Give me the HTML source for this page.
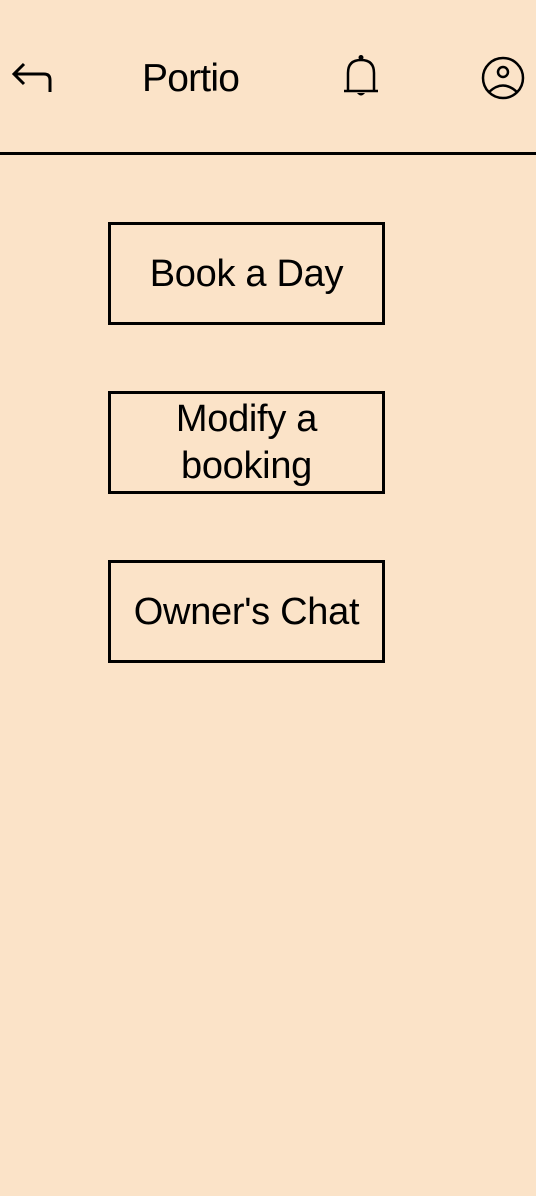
<!DOCTYPE html>
<html><head><style>
html,body{margin:0;padding:0}
body{width:536px;height:1196px;background:#fbe3c8;position:relative;overflow:hidden;font-family:"Liberation Sans",sans-serif;color:#000}
.hdr{position:absolute;left:0;top:152px;width:536px;height:3px;background:#000}
.title{position:absolute;left:142px;top:55px;font-size:39px;line-height:48px;letter-spacing:-0.8px}
.btn{position:absolute;left:108px;width:271px;height:97px;border:3px solid #000;display:flex;align-items:center;justify-content:center;text-align:center;font-size:38px;line-height:46px;letter-spacing:-0.3px}
svg{position:absolute}
</style></head><body>
<svg style="left:10px;top:58px" width="46" height="40" viewBox="0 0 46 40"><path d="M14 6 L4 16 L14 26 M4 16 H34 Q40 16 40 22 V34" fill="none" stroke="#000" stroke-width="3"/></svg>
<div class="title">Portio</div>
<svg style="left:340px;top:54px" width="44" height="46" viewBox="0 0 44 46"><circle cx="21" cy="3.5" r="2.5" fill="#000"/><path d="M8 36 V19 Q8 6 21 6 Q34 6 34 19 V36 M4 37 H38" fill="none" stroke="#000" stroke-width="2.5"/><path d="M17 39 Q21 44 25 39 Z" fill="#000"/></svg>
<svg style="left:480px;top:55px" width="46" height="46" viewBox="0 0 46 46"><circle cx="23" cy="23" r="20" fill="none" stroke="#000" stroke-width="2.5"/><circle cx="23" cy="17" r="5" fill="none" stroke="#000" stroke-width="2.5"/><path d="M9 37 Q23 24 37 37" fill="none" stroke="#000" stroke-width="2.5"/></svg>
<div class="hdr"></div>
<div class="btn" style="top:222px">Book a Day</div>
<div class="btn" style="top:391px;line-height:47px">Modify a<br>booking</div>
<div class="btn" style="top:560px">Owner's Chat</div>
</body></html>
